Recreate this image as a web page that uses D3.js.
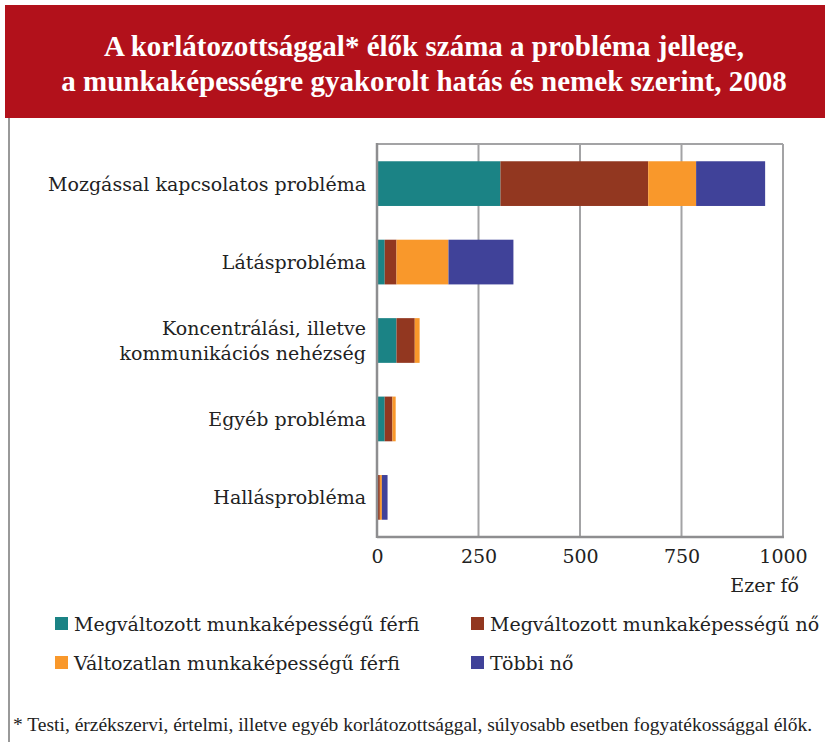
<!DOCTYPE html>
<html>
<head>
<meta charset="utf-8">
<script src="https://cdn.jsdelivr.net/npm/d3@7"></script>
<style>
  body { margin: 0; background: #fff; }
  svg { display: block; }
</style>
</head>
<body>
<div id="chart"></div>
<script>
var categories = ["Mozgással kapcsolatos probléma", "Látásprobléma",
  "Koncentrálási, illetve|kommunikációs nehézség", "Egyéb probléma", "Hallásprobléma"];
var seriesNames = ["Megváltozott munkaképességű férfi", "Megváltozott munkaképességű nő",
  "Változatlan munkaképességű férfi", "Többi nő"];
var ferfiMegv = [304, 19, 48, 19, 2];
var noMegv = [364, 29, 45, 19, 5];
var ferfiValt = [118, 128, 12, 8, 5];
var tobbiNo = [170, 160, 0, 0, 14];
var xTicks = [0, 250, 500, 750, 1000];

var width = 825,
  height = 742;

var color = d3.scaleOrdinal()
  .domain(seriesNames)
  .range(["#1b8385", "#923720", "#f9982b", "#404299"]);

var rows = categories.map(function(c, i) {
  return { cat: c, v0: ferfiMegv[i], v1: noMegv[i], v2: ferfiValt[i], v3: tobbiNo[i] };
});

var stack = d3.stack().keys(["v0", "v1", "v2", "v3"]);
var layers = stack(rows);

var x = d3.scaleLinear().domain([0, 1000]).range([377, 783]);
var y = d3.scaleBand().domain(categories).range([144, 537]).paddingInner(0.43).paddingOuter(0.22);

var svg = d3.select("#chart").append("svg")
  .attr("width", width)
  .attr("height", height);

// title banner
svg.append("rect")
  .attr("x", 5).attr("y", 5).attr("width", width - 5).attr("height", 113)
  .attr("fill", "#b2111b");

var title = svg.append("text")
  .attr("text-anchor", "middle")
  .attr("fill", "#fff")
  .style("font-family", "'Liberation Serif', serif")
  .style("font-weight", "bold")
  .style("font-size", "29px");
title.append("tspan").attr("x", 424).attr("y", 56).text("A korlátozottsággal* élők száma a probléma jellege,");
title.append("tspan").attr("x", 424).attr("y", 91).text("a munkaképességre gyakorolt hatás és nemek szerint, 2008");

// left frame line
svg.append("line")
  .attr("x1", 9).attr("x2", 9).attr("y1", 118).attr("y2", height)
  .attr("stroke", "#999").attr("stroke-width", 2);

// grid lines
svg.append("g")
  .selectAll("line")
  .data(xTicks)
  .enter().append("line")
  .attr("x1", function(d) { return x(d); })
  .attr("x2", function(d) { return x(d); })
  .attr("y1", 144).attr("y2", 537)
  .attr("stroke", "#a3a3a5").attr("stroke-width", 2);

svg.append("line")
  .attr("x1", x(0)).attr("x2", x(1000)).attr("y1", 144).attr("y2", 144)
  .attr("stroke", "#a3a3a5").attr("stroke-width", 2);

// bars
svg.append("g")
  .selectAll("g")
  .data(layers)
  .enter().append("g")
  .attr("fill", function(d, i) { return color(seriesNames[i]); })
  .selectAll("rect")
  .data(function(d) { return d; })
  .enter().append("rect")
  .attr("x", function(d) { return x(d[0]); })
  .attr("y", function(d) { return y(d.data.cat); })
  .attr("width", function(d) { return x(d[1]) - x(d[0]); })
  .attr("height", y.bandwidth());

// axis frame
svg.append("line")
  .attr("x1", x(0)).attr("x2", x(0)).attr("y1", 143).attr("y2", 538)
  .attr("stroke", "#8e8e90").attr("stroke-width", 2.5);
svg.append("line")
  .attr("x1", x(0)).attr("x2", x(1000) + 1).attr("y1", 537).attr("y2", 537)
  .attr("stroke", "#8e8e90").attr("stroke-width", 2.5);

// x axis labels
var xAxis = d3.axisBottom(x).tickValues(xTicks).tickFormat(d3.format("d")).tickSize(0).tickPadding(13);
var gx = svg.append("g").attr("transform", "translate(0,537)").call(xAxis);
gx.select(".domain").remove();
gx.selectAll("text")
  .attr("fill", "#222")
  .style("font-family", "'DejaVu Serif', serif")
  .style("font-size", "19px");

svg.append("text")
  .attr("x", 799).attr("y", 592)
  .attr("text-anchor", "end")
  .attr("fill", "#222")
  .style("font-family", "'DejaVu Serif', serif")
  .style("font-size", "19px")
  .text("Ezer fő");

// category labels
svg.append("g")
  .selectAll("text")
  .data(categories)
  .enter().append("text")
  .attr("text-anchor", "end")
  .attr("fill", "#222")
  .style("font-family", "'DejaVu Serif', serif")
  .style("font-size", "19px")
  .each(function(d) {
    var lines = d.split("|");
    var cy = y(d) + y.bandwidth() / 2;
    var t = d3.select(this);
    lines.forEach(function(l, j) {
      t.append("tspan")
        .attr("x", 366)
        .attr("y", cy + 7 + (j - (lines.length - 1) / 2) * 25)
        .text(l);
    });
  });

// legend
var legend = svg.append("g")
  .selectAll("g")
  .data(seriesNames)
  .enter().append("g")
  .attr("transform", function(d, i) {
    return "translate(" + (i % 2 === 0 ? 55 : 471) + "," + (i < 2 ? 624 : 663) + ")";
  });
legend.append("rect")
  .attr("x", 0).attr("y", -7).attr("width", 13).attr("height", 13)
  .attr("fill", function(d) { return color(d); });
legend.append("text")
  .attr("x", 19).attr("y", 7)
  .attr("fill", "#222")
  .style("font-family", "'DejaVu Serif', serif")
  .style("font-size", "19px")
  .text(function(d) { return d; });

// footnote
svg.append("text")
  .attr("x", 13).attr("y", 731)
  .attr("fill", "#222")
  .style("font-family", "'Liberation Serif', serif")
  .style("font-size", "19.5px")
  .text("* Testi, érzékszervi, értelmi, illetve egyéb korlátozottsággal, súlyosabb esetben fogyatékossággal élők.");
</script>
</body>
</html>
